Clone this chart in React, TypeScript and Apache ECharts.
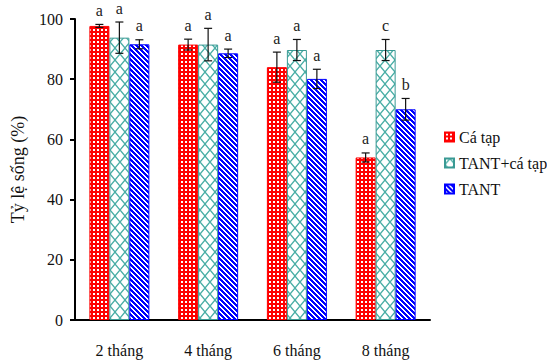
import React, { useEffect, useRef } from "react";
import * as echarts from "echarts";

const categories = ["2 tháng", "4 tháng", "6 tháng", "8 tháng"];
const seriesNames = ["Cá tạp", "TANT+cá tạp", "TANT"];
const caTap = [97.7, 91.5, 84.0, 54.0];
const caTapErr = [0.5, 1.8, 5.0, 1.5];
const tantCaTap = [93.8, 91.5, 89.7, 89.7];
const tantCaTapErr = [5.2, 5.4, 3.5, 3.5];
const tant = [91.6, 88.6, 80.1, 70.0];
const tantErr = [1.5, 1.4, 3.2, 3.6];
const caTapLetters = ["a", "a", "a", "a"];
const tantCaTapLetters = ["a", "a", "a", "c"];
const tantLetters = ["a", "a", "a", "b"];
const yTicks = [0, 20, 40, 60, 80, 100];

const FONT = "Liberation Serif";

function makePattern(w: number, h: number, draw: (ctx: CanvasRenderingContext2D) => void) {
  const c = document.createElement("canvas");
  c.width = w;
  c.height = h;
  const ctx = c.getContext("2d") as CanvasRenderingContext2D;
  draw(ctx);
  return { image: c, repeat: "repeat", imageWidth: w, imageHeight: h } as any;
}

export default function App() {
  const ref = useRef<HTMLDivElement>(null);
  useEffect(() => {
    if (!ref.current) return;
    const chart = echarts.init(ref.current, undefined, { renderer: "svg" });

    const redPat = makePattern(4, 4, (ctx) => {
      ctx.fillStyle = "#ff0000";
      ctx.fillRect(0, 0, 4, 4);
      ctx.fillStyle = "#ffffff";
      ctx.fillRect(1, 1, 2, 2);
    });
    const tealPat = makePattern(10, 12, (ctx) => {
      ctx.fillStyle = "#ffffff";
      ctx.fillRect(0, 0, 10, 12);
      ctx.strokeStyle = "#4aaea6";
      ctx.lineWidth = 1.3;
      ctx.beginPath();
      ctx.moveTo(0, 6);
      ctx.lineTo(5, 0);
      ctx.lineTo(10, 6);
      ctx.lineTo(5, 12);
      ctx.closePath();
      ctx.stroke();
    });
    const bluePat = makePattern(5, 5, (ctx) => {
      ctx.fillStyle = "#ffffff";
      ctx.fillRect(0, 0, 5, 5);
      ctx.fillStyle = "#0000ff";
      for (let y = 0; y < 5; y++) {
        for (let x = 0; x < 5; x++) {
          if ((((x - y) % 5) + 5) % 5 < 3) ctx.fillRect(x, y, 1, 1);
        }
      }
    });

    const values = [caTap, tantCaTap, tant];
    const errs = [caTapErr, tantCaTapErr, tantErr];
    const letters = [caTapLetters, tantCaTapLetters, tantLetters];
    const fills = [redPat, tealPat, bluePat];
    const borders = ["#ff0000", "#3a9a94", "#0000ff"];
    const BAR_W = 20;

    const barSeries = seriesNames.map((name, si) => ({
      name,
      type: "bar",
      data: values[si],
      barWidth: BAR_W,
      barGap: "0%",
      itemStyle: { color: fills[si], borderColor: borders[si], borderWidth: 1 },
      z: 2,
    }));

    const errSeries = seriesNames.map((name, si) => ({
      type: "custom",
      name: name + " err",
      z: 5,
      silent: true,
      data: values[si].map((v, ci) => [ci, v, errs[si][ci]]),
      renderItem: (params: any, api: any) => {
        const ci = api.value(0);
        const v = api.value(1);
        const e = api.value(2);
        const off = (si - 1) * BAR_W;
        const top = api.coord([ci, v + e]);
        const bot = api.coord([ci, v - e]);
        const x = top[0] + off;
        const cap = 4;
        const stroke = { stroke: "#111", lineWidth: 1.2 };
        return {
          type: "group",
          children: [
            { type: "line", shape: { x1: x, y1: top[1], x2: x, y2: bot[1] }, style: stroke },
            { type: "line", shape: { x1: x - cap, y1: top[1], x2: x + cap, y2: top[1] }, style: stroke },
            { type: "line", shape: { x1: x - cap, y1: bot[1], x2: x + cap, y2: bot[1] }, style: stroke },
            {
              type: "text",
              style: {
                x: x,
                y: top[1] - 6,
                text: letters[si][params.dataIndex],
                fill: "#222",
                fontSize: 16,
                fontFamily: FONT,
                textAlign: "center",
                textVerticalAlign: "bottom",
              },
            },
          ],
        };
      },
    }));

    chart.setOption({
      animation: false,
      backgroundColor: "#ffffff",
      textStyle: { fontFamily: FONT },
      grid: { left: 75, right: 117, top: 19, bottom: 43, containLabel: false },
      legend: {
        data: seriesNames,
        orient: "vertical",
        left: 439,
        top: 124,
        itemWidth: 9,
        itemHeight: 9,
        itemGap: 10,
        icon: "rect",
        textStyle: { fontFamily: FONT, fontSize: 16, color: "#111", lineHeight: 16 },
      },
      xAxis: {
        type: "category",
        data: categories,
        axisLine: { lineStyle: { color: "#000", width: 2 } },
        axisTick: { length: 6, lineStyle: { color: "#000", width: 2 } },
        axisLabel: { fontFamily: FONT, fontSize: 16, color: "#111", margin: 22 },
      },
      yAxis: {
        type: "value",
        min: yTicks[0],
        max: yTicks[yTicks.length - 1],
        interval: 20,
        name: "Tỷ lệ sống (%)",
        nameLocation: "middle",
        nameRotate: 90,
        nameGap: 48,
        nameTextStyle: { fontFamily: FONT, fontSize: 18, color: "#111" },
        axisLine: { show: true, lineStyle: { color: "#000", width: 2 } },
        axisTick: { show: true, length: 5, lineStyle: { color: "#000", width: 2 } },
        axisLabel: { fontFamily: FONT, fontSize: 16, color: "#111", margin: 12 },
        splitLine: { show: false },
      },
      series: [...barSeries, ...errSeries],
    });
    return () => chart.dispose();
  }, []);
  return <div ref={ref} style={{ width: 547, height: 363, position: "absolute", left: 0, top: 0 }} />;
}
